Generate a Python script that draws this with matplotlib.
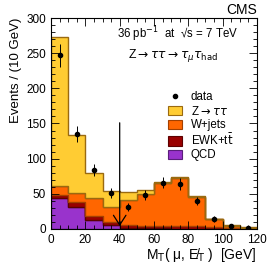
import numpy as np
import matplotlib
matplotlib.use("Agg")
import matplotlib.pyplot as plt
from matplotlib.patches import Patch
from matplotlib.lines import Line2D

plt.rcParams['font.family'] = ['Liberation Sans', 'DejaVu Sans']
plt.rcParams['mathtext.fontset'] = 'dejavusans'

# bin edges, 10 GeV bins
edges = [0, 10, 20, 30, 40, 50, 60, 70, 80, 90, 100, 110, 120]
centers = [5, 15, 25, 35, 45, 55, 65, 75, 85, 95, 105, 115]

# stack contributions (events / 10 GeV)
qcd   = [44, 31, 13, 5, 2, 1, 1, 0.5, 0.5, 0.3, 0.2, 0.1]
ewk   = [5, 7, 6, 4.5, 3, 3.7, 3.5, 4, 3.5, 2.7, 1.8, 0.9]
wjets = [12, 13, 25, 21.5, 36, 45.3, 60.5, 67.5, 42, 11, 2.5, 1]
ztt   = [212, 82, 35, 23, 11.6, 5, 1.5, 1.5, 1.5, 0.8, 0.5, 0.3]

data     = [247, 135, 84, 51, 31, 48, 66, 64, 40, 14, 4, 1]
data_err = [16, 12, 9, 7, 6, 7, 8, 8, 6, 4, 2, 1]

fig = plt.figure(figsize=(2.76, 2.65), dpi=100)
ax = fig.add_axes([0.185, 0.136, 0.746, 0.796])

components = [
    (qcd,   '#9933CC', '#5a1f7a', 'QCD'),
    (ewk,   '#990000', '#5c0000', r'EWK+t$\bar{\rm t}$'),
    (wjets, '#FF6600', '#a34000', 'W+jets'),
    (ztt,   '#FFCC33', '#9a6a10', r'Z$\rightarrow\tau\tau$'),
]
base = np.zeros(len(centers))
for vals, fc, ec, lab in components:
    top = base + np.array(vals)
    ax.stairs(top, edges, baseline=base.copy(), fill=True,
              facecolor=fc, edgecolor=ec, linewidth=1.0)
    base = top

ax.errorbar(centers, data, yerr=data_err, fmt='o', color='black',
            markersize=3, elinewidth=0.7, capsize=0)

# cut arrow at 40 GeV
ax.annotate('', xy=(40, 4), xytext=(40, 151),
            arrowprops=dict(arrowstyle='->,head_length=0.7,head_width=0.45',
                            lw=0.9, color='black', mutation_scale=10,
                            shrinkA=0, shrinkB=0))

ax.set_xlim(0, 120)
ax.set_ylim(0, 300)
ax.set_xticks([0, 20, 40, 60, 80, 100, 120])
ax.set_xticks(np.arange(0, 121, 5), minor=True)
ax.set_yticks([0, 50, 100, 150, 200, 250, 300])
ax.set_yticks(np.arange(0, 301, 10), minor=True)
ax.tick_params(which='both', direction='in', top=True, right=True,
               labelsize=8.5)
ax.tick_params(which='major', length=6, width=0.6)
ax.tick_params(which='minor', length=3, width=0.6)
for s in ax.spines.values():
    s.set_linewidth(0.8)

ax.set_ylabel('Events / (10 GeV)', fontsize=9.5, loc='top', labelpad=3)
ax.set_xlabel('M$_{\\rm T}$( μ, E\u0338$_{\\rm T}$ )  [GeV]', fontsize=10,
              loc='right', labelpad=0)

fig.text(0.931, 0.963, 'CMS', ha='right', va='center', fontsize=10)
ax.text(0.32, 0.925, '36 pb$^{-1}$  at  √s = 7 TeV', transform=ax.transAxes,
        fontsize=8.3, va='center')
ax.text(0.375, 0.82, r'Z$\rightarrow\tau\tau\rightarrow\tau_{\mu}\tau_{\rm had}$',
        transform=ax.transAxes, fontsize=8.8, va='center')

handles = [Line2D([], [], marker='o', color='black', linestyle='none', markersize=3)]
labels = ['data']
for vals, fc, ec, lab in reversed(components):
    handles.append(Patch(facecolor=fc, edgecolor=ec, linewidth=0.8))
    labels.append(lab)
ax.legend(handles, labels, loc='upper left', bbox_to_anchor=(0.53, 0.69),
          frameon=False, fontsize=8.3, handlelength=1.2, handleheight=0.85,
          labelspacing=0.12, handletextpad=0.75, borderpad=0.2)

fig.savefig('out.png', dpi=100)
